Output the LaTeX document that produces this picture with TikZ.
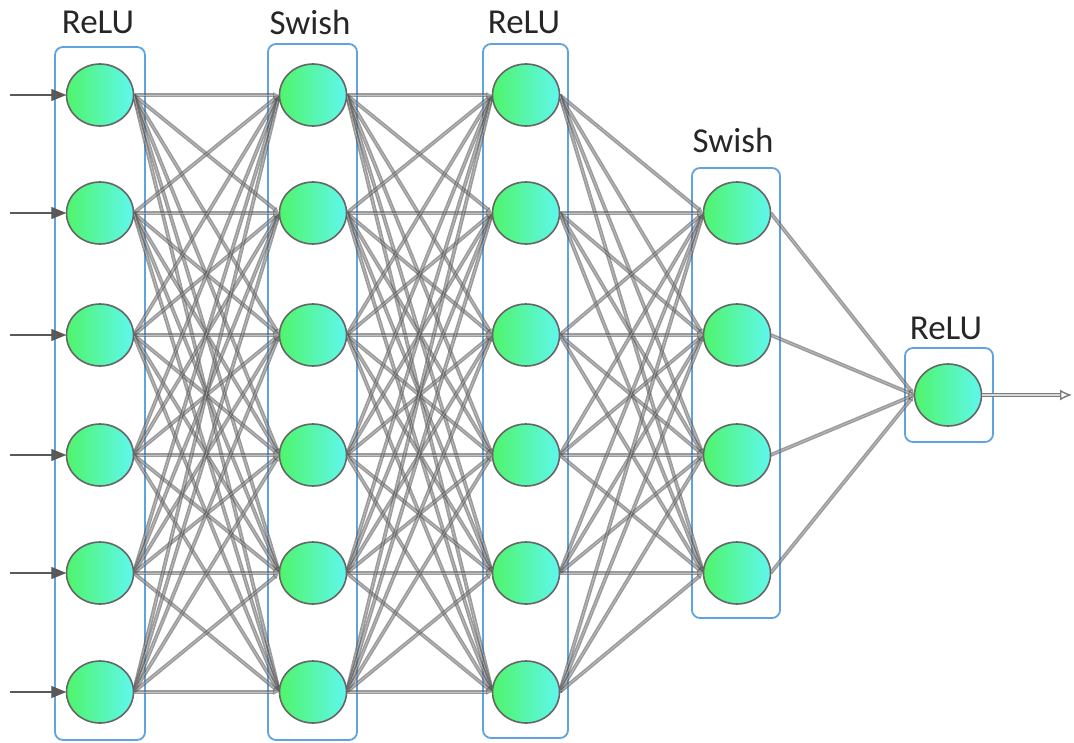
\documentclass[tikz,border=0pt]{standalone}
\usepackage{fontspec}
\setmainfont{Carlito}
\usetikzlibrary{arrows.meta,shapes.geometric}
\definecolor{nodeL}{HTML}{4FF56A}
\definecolor{nodeR}{HTML}{5FF7EE}
\definecolor{boxblue}{HTML}{5FA3E0}
\definecolor{edgegray}{HTML}{5A5A5A}
\tikzset{
  unit/.style={ellipse, minimum width=67pt, minimum height=62pt, inner sep=0pt},
  neuron/.style={unit, draw=black!60, line width=1.6pt, left color=nodeL, right color=nodeR},
  layerbox/.style={draw=boxblue, line width=1.8pt, rounded corners=8pt},
  layerlabel/.style={font=\fontsize{35}{38}\selectfont, text=black!85},
  link/.style={draw=edgegray, line width=1.6pt, double=black!15, double distance=0.6pt,
    opacity=0.6, -{Latex[open,length=6pt,width=6pt]}},
  inarrow/.style={draw=black!65, line width=1.3pt, -{Triangle[length=15pt,width=12pt]}},
  outarrow/.style={draw=edgegray!80, line width=1.4pt, double=black!15, double distance=2pt,
    -{Latex[open,length=12pt,width=11pt]}}
}
\begin{document}
\begin{tikzpicture}[x=1pt,y=-1pt]
\useasboundingbox (0,0) rectangle (1074,742);

% layer boxes
\draw[layerbox] (55,47) rectangle (145,740);
\draw[layerbox] (268,44) rectangle (357,740);
\draw[layerbox] (483,44) rectangle (568,738);
\draw[layerbox] (692,168) rectangle (780,618);
\draw[layerbox] (905,348) rectangle (993,442);

% labels
\node[layerlabel] (lab1) at (98,22) {ReLU};
\node[layerlabel] (lab2) at (310,22) {Swish};
\node[layerlabel] (lab3) at (524,22) {ReLU};
\node[layerlabel] (lab4) at (733,140) {Swish};
\node[layerlabel] (lab5) at (946,328) {ReLU};

% neuron outlines (invisible), used as link anchors
\foreach \i/\y in {1/95,2/213,3/335,4/455,5/573,6/692}{
  \node[unit] (a\i) at (100,\y) {};
  \node[unit] (b\i) at (313,\y) {};
  \node[unit] (c\i) at (526,\y) {};
}
\foreach \i/\y in {1/213,2/335,3/455,4/573}{
  \node[unit] (d\i) at (737,\y) {};
}
\node[unit] (e1) at (948,395) {};

% connections
\foreach \i in {1,...,6}{
  \foreach \j in {1,...,6}{
    \draw[link] (a\i.east) -- (b\j.west);
    \draw[link] (b\i.east) -- (c\j.west);
  }
  \foreach \j in {1,...,4}{
    \draw[link] (c\i.east) -- (d\j.west);
  }
}
\foreach \i in {1,...,4}{
  \draw[link] (d\i.east) -- (e1.west);
}

% neurons on top of the links
\foreach \n in {a1,a2,a3,a4,a5,a6,b1,b2,b3,b4,b5,b6,c1,c2,c3,c4,c5,c6,d1,d2,d3,d4,e1}{
  \node[neuron] at (\n) {};
}

% inputs and output
\foreach \i/\y in {1/95,2/213,3/335,4/455,5/573,6/692}{
  \coordinate (in\i) at (10,\y);
  \draw[inarrow] (in\i) -- (a\i.west);
}
\coordinate (out) at (1072,395);
\draw[outarrow] (e1.east) -- (out);
\end{tikzpicture}
\end{document}
